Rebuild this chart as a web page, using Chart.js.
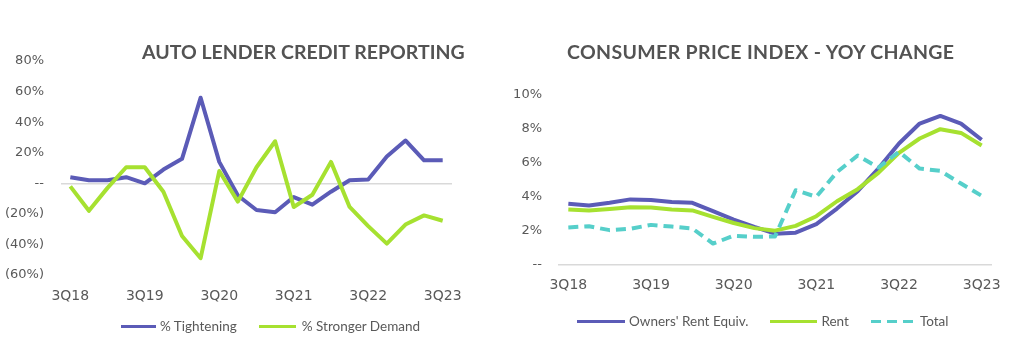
<!DOCTYPE html>
<html lang="en">
<head>
  <meta charset="UTF-8">
  <title>Auto Lender Credit Reporting / Consumer Price Index</title>
  <script src="https://cdn.jsdelivr.net/npm/chart.js"></script>
  <style>
    body { margin: 0; background: #fff; }
    .page { position: relative; width: 1024px; height: 353px; overflow: hidden; }
    canvas { position: absolute; top: 0; }
    #chart-credit { left: 0; }
    #chart-cpi { left: 510px; }
    .title {
      position: absolute; top: 40px; margin: 0;
      font: bold 19.5px/24px Lato, sans-serif; color: #535353; white-space: nowrap;
    }
    .legend {
      position: absolute; display: flex; align-items: center; gap: 22px;
      font: 13.5px/16px Lato, sans-serif; color: #595959; white-space: nowrap;
    }
    .legend .item { display: flex; align-items: center; }
    .legend i { display: inline-block; height: 3px; margin-right: 4px; }
  </style>
</head>
<body>
  <div class="page">
    <canvas id="chart-credit" width="500" height="353"></canvas>
    <canvas id="chart-cpi" width="514" height="353"></canvas>

    <h2 class="title" style="left:142px">AUTO LENDER CREDIT REPORTING</h2>
    <h2 class="title" style="left:567px; letter-spacing:0.35px">CONSUMER PRICE INDEX - YOY CHANGE</h2>

    <div class="legend" style="left:121px; top:318px">
      <span class="item"><i style="width:35px; background:#5b5bb7"></i>% Tightening</span>
      <span class="item"><i style="width:37px; background:#a6e130; margin-right:6px"></i>% Stronger Demand</span>
    </div>
    <div class="legend" style="left:577px; top:313px">
      <span class="item"><i style="width:48px; background:#5b5bb7"></i>Owners' Rent Equiv.</span>
      <span class="item"><i style="width:47px; background:#a6e130"></i>Rent</span>
      <span class="item"><i style="width:42px; margin-right:7px; background:repeating-linear-gradient(90deg,#56cfca 0 10px,transparent 10px 16px)"></i>Total</span>
    </div>
  </div>

  <script>
    // quarters on the x axis, only every 4th one is labelled
    const quarters = ['3Q18','4Q18','1Q19','2Q19','3Q19','4Q19','1Q20','2Q20','3Q20','4Q20',
                      '1Q21','2Q21','3Q21','4Q21','1Q22','2Q22','3Q22','4Q22','1Q23','2Q23','3Q23'];
    const tickLabels = ['3Q18','3Q19','3Q20','3Q21','3Q22','3Q23'];

    // auto lender credit reporting (%)
    const tightening     = [4, 2, 2, 4, 0, 9, 16, 56, 14, -8, -17.5, -19, -9, -14, -5.5, 2, 2.5, 17.5, 28, 15, 15];
    const strongerDemand = [-2, -18, -3, 10.5, 10.5, -5.5, -34.5, -49, 8, -12, 10.5, 27.5, -15.5, -7.5, 14, -15.5, -28, -39.5, -27, -21, -24.5];

    // CPI yoy change (%)
    const ownersRentEquiv = [3.6, 3.5, 3.66, 3.86, 3.82, 3.7, 3.66, 3.17, 2.67, 2.24, 1.84, 1.9, 2.4, 3.32, 4.34, 5.67, 7.15, 8.32, 8.77, 8.32, 7.37];
    const rent            = [3.27, 3.21, 3.3, 3.4, 3.38, 3.27, 3.21, 2.83, 2.47, 2.17, 2.02, 2.3, 2.87, 3.75, 4.46, 5.42, 6.6, 7.44, 7.99, 7.77, 7.03];
    const totalCpi        = [2.21, 2.28, 2.05, 2.13, 2.36, 2.26, 2.15, 1.26, 1.72, 1.66, 1.68, 4.4, 4.01, 5.47, 6.44, 5.73, 6.66, 5.67, 5.54, 4.79, 4.07];

    const BLUE = '#5b5bb7';
    const GREEN = '#a6e130';
    const TEAL = '#56cfca';
    const GREY = '#595959';

    function pctLabel(v) {
      if (v === 0) return '--';
      return v < 0 ? '(' + (-v) + '%)' : v + '%';
    }

    function xAxis(pad) {
      return {
        offset: true,
        grid: { display: false, drawTicks: false },
        border: { display: false },
        ticks: {
          autoSkip: false, maxRotation: 0, padding: pad, color: GREY,
          font: { family: 'DejaVu Sans', size: 14 },
          callback: function (v) {
            const l = this.getLabelForValue(v);
            return tickLabels.includes(l) ? l : '';
          }
        },
        afterFit: s => { s.height = 40; }
      };
    }

    function yAxis(min, max, step, pad, width) {
      return {
        min: min, max: max,
        border: { display: false },
        grid: {
          drawTicks: false, lineWidth: 1.5,
          color: c => c.tick && c.tick.value === 0 ? '#d9d9d9' : 'transparent'
        },
        ticks: {
          stepSize: step, padding: pad, color: GREY,
          font: { family: 'DejaVu Sans', size: 13 },
          callback: pctLabel
        },
        afterFit: s => { s.width = width; }
      };
    }

    function line(label, data, color, order, dash) {
      return {
        label: label, data: data, borderColor: color, backgroundColor: color,
        borderWidth: 4, pointRadius: 0, tension: 0, order: order,
        borderJoinStyle: 'round', borderDash: dash || []
      };
    }

    const common = {
      responsive: false,
      animation: false,
      plugins: { legend: { display: false }, title: { display: false } }
    };

    new Chart(document.getElementById('chart-credit'), {
      type: 'line',
      data: {
        labels: quarters,
        datasets: [
          line('% Tightening', tightening, BLUE, 1),
          line('% Stronger Demand', strongerDemand, GREEN, 0)
        ]
      },
      options: {
        ...common,
        layout: { padding: { top: 61, right: 48, bottom: 38, left: 0 } },
        scales: { x: xAxis(13), y: yAxis(-60, 80, 20, 17, 61) }
      }
    });

    new Chart(document.getElementById('chart-cpi'), {
      type: 'line',
      data: {
        labels: quarters,
        datasets: [
          line("Owners' Rent Equiv.", ownersRentEquiv, BLUE, 2),
          line('Rent', rent, GREEN, 1),
          line('Total', totalCpi, TEAL, 0, [10, 6])
        ]
      },
      options: {
        ...common,
        layout: { padding: { top: 95, right: 32, bottom: 48, left: 0 } },
        scales: { x: xAxis(12), y: yAxis(0, 10, 2, 16, 48) }
      }
    });
  </script>
</body>
</html>
